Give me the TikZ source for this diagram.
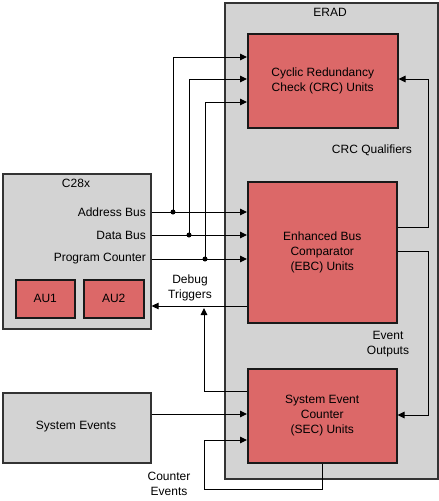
\documentclass[tikz,border=0pt]{standalone}
\usepackage{fontspec}
\setmainfont{Liberation Sans}
\usetikzlibrary{arrows.meta}
\definecolor{boxred}{RGB}{220,104,104}
\definecolor{boxgray}{RGB}{211,211,211}
\begin{document}
\begin{tikzpicture}[x=1pt,y=-1pt,
  font=\fontsize{12}{15}\selectfont,
  outerbox/.style={draw=black!80, line width=1.6pt, fill=boxgray, inner sep=0pt, anchor=north west},
  unitbox/.style={draw=black!90, line width=1.5pt, fill=boxred, inner sep=0pt, anchor=north west, align=center},
  txt/.style={inner sep=0pt, align=center},
  wire/.style={line width=1pt, draw=black},
  arr/.style={wire, -{Triangle[length=7pt,width=6.5pt]}},
  dot/.style={circle, fill=black, inner sep=0pt, minimum size=5pt}
]
\useasboundingbox (0,0) rectangle (439,501);

% ERAD container
\node[outerbox, minimum width=213pt, minimum height=476pt] (erad) at (224,2) {};
\node[txt] (eradlbl) at (330,12) {ERAD};

% units
\node[unitbox, minimum width=150pt, minimum height=94pt] (crc) at (247,33) {};
\node[txt] (crctxt) at (crc.center) {Cyclic Redundancy\\Check (CRC) Units};
\node[unitbox, minimum width=149pt, minimum height=141pt] (ebc) at (247,181) {};
\node[txt] (ebctxt) at (ebc.center) {Enhanced Bus\\Comparator\\(EBC) Units};
\node[unitbox, minimum width=149pt, minimum height=94pt] (sec) at (247,368) {};
\node[txt] (sectxt) at (sec.center) {System Event\\Counter\\(SEC) Units};

% C28x
\node[outerbox, minimum width=148pt, minimum height=155pt] (c28) at (2,173) {};
\node[txt] (c28lbl) at (76,183) {C28x};
\node[txt, anchor=east] (abl) at (146,212) {Address Bus};
\node[txt, anchor=east] (dbl) at (146,235) {Data Bus};
\node[txt, anchor=east] (pcl) at (146,259) {Program Counter};
\node[unitbox, minimum width=59pt, minimum height=38pt] (au1) at (15,279) {};
\node[txt] (au1t) at (au1.center) {AU1};
\node[unitbox, minimum width=60pt, minimum height=38pt] (au2) at (83,279) {};
\node[txt] (au2t) at (au2.center) {AU2};

% System events
\node[outerbox, minimum width=148pt, minimum height=70pt] (sysev) at (2,392) {};
\node[txt] (sysevt) at (76,427) {System Events};

% labels
\node[txt] (crcq) at (372,150) {CRC Qualifiers};
\node[txt] (evout) at (388,344) {Event\\Outputs};
\node[txt] (dbg) at (190,288) {Debug\\Triggers};
\node[txt] (cntev) at (169,484) {Counter\\Events};

% junctions
\coordinate (ja) at (173,212);
\coordinate (jd) at (189,235);
\coordinate (jp) at (205,259);

% buses to EBC
\draw[arr] (c28.east |- ja) -- (ebc.west |- ja);
\draw[arr] (c28.east |- jd) -- (ebc.west |- jd);
\draw[arr] (c28.east |- jp) -- (ebc.west |- jp);
% buses to CRC
\draw[arr] (ja) -- (173,57) -- (crc.west |- 0,57);
\draw[arr] (jd) -- (189,79) -- (crc.west |- 0,79);
\draw[arr] (jp) -- (205,102) -- (crc.west |- 0,102);
\node[dot] (da) at (ja) {};
\node[dot] (dd) at (jd) {};
\node[dot] (dp) at (jp) {};

% debug triggers
\draw[arr] (ebc.west |- 0,306) -- (c28.east |- 0,306);
\draw[arr] (sec.west |- 0,391) -- (204,391) -- (204,308);

% CRC qualifiers and event outputs
\draw[arr] (ebc.east |- 0,227) -- (428,227) -- (428,79) -- (crc.east |- 0,79);
\draw[arr] (ebc.east |- 0,251) -- (428,251) -- (428,415) -- (sec.east |- 0,415);

% system events
\draw[arr] (sysev.east |- 0,414) -- (sec.west |- 0,414);

% counter events loop
\draw[arr] (sec.south) -- (sec.south |- 0,489) -- (204,489) -- (204,440) -- (sec.west |- 0,440);
\end{tikzpicture}
\end{document}
